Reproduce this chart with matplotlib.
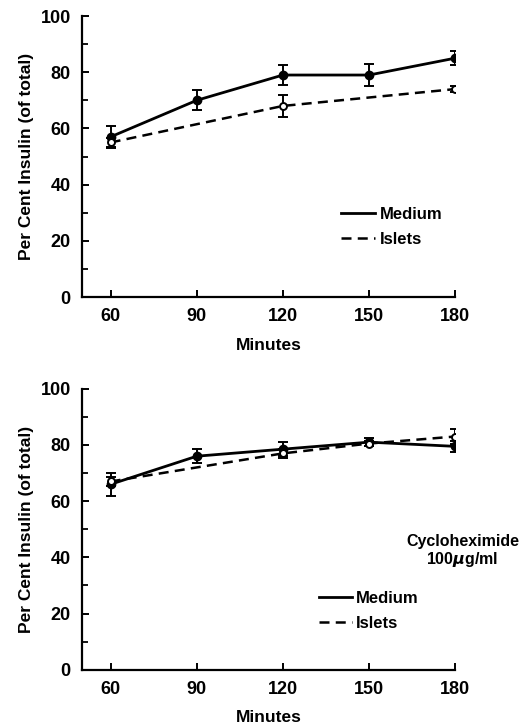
import numpy as np
import matplotlib
matplotlib.use('Agg')
from matplotlib import pyplot as plt
from matplotlib.lines import Line2D

# time points (minutes)
minutes = [60, 90, 120, 150, 180]
islet_minutes = [60, 120, 180]

# top panel: control
top_medium = [57, 70, 79, 79, 85]
top_medium_err = [4, 3.5, 3.5, 4, 2.5]
top_islets = [55, 68, 74]
top_islets_err = [1.5, 4, 1]

# bottom panel: cycloheximide 100 ug/ml
bot_medium = [66, 76, 78.5, 81, 79.5]
bot_medium_err = [4, 2.5, 2.5, 1.5, 2]
bot_islet_minutes = [60, 120, 150, 180]
bot_islets = [67, 77, 80.5, 83]
bot_islets_err = [1.5, 1.5, 1, 2.5]

plt.rcParams['font.family'] = ['Liberation Sans', 'DejaVu Sans']
plt.rcParams['font.weight'] = 'bold'

fig = plt.figure(figsize=(5.25, 7.28), dpi=100)
ax1 = fig.add_axes([0.156, 0.592, 0.711, 0.386])
ax2 = fig.add_axes([0.156, 0.080, 0.711, 0.386])

dash = (0, (4, 2.5))


def draw_panel(ax, med, med_err, isl_x, isl, isl_err):
    ax.errorbar(minutes, med, yerr=med_err, color='black', lw=2.0, marker='o',
                ms=6, capsize=3.5, elinewidth=1.4, capthick=1.4)
    ax.errorbar(isl_x, isl, yerr=isl_err, color='black', lw=1.8, ls=dash,
                marker='o', ms=5, mfc='white', mew=1.4, capsize=3.5,
                elinewidth=1.4, capthick=1.4)
    ax.set_xlim(50, 180)
    ax.set_ylim(0, 100)
    ax.set_xticks(minutes)
    ax.set_yticks(np.arange(0, 101, 20))
    ax.set_yticks(np.arange(10, 100, 20), minor=True)
    ax.spines['top'].set_visible(False)
    ax.spines['right'].set_visible(False)
    ax.spines['left'].set_linewidth(1.6)
    ax.spines['bottom'].set_linewidth(1.6)
    ax.tick_params(direction='in', length=5, width=1.4, labelsize=13, pad=8)
    ax.tick_params(axis='y', which='minor', direction='in', length=4, width=1.3)
    ax.set_ylabel('Per Cent Insulin (of total)', fontsize=12.5, fontweight='bold', labelpad=5)
    ax.set_xlabel('Minutes', fontsize=12.5, fontweight='bold', labelpad=9)


draw_panel(ax1, top_medium, top_medium_err, islet_minutes, top_islets, top_islets_err)
draw_panel(ax2, bot_medium, bot_medium_err, bot_islet_minutes, bot_islets, bot_islets_err)

handles = [Line2D([], [], color='black', lw=2.0),
           Line2D([], [], color='black', lw=1.8, ls=dash)]
labels = ['Medium', 'Islets']

ax1.legend(handles, labels, loc='upper left', bbox_to_anchor=(0.655, 0.375),
           frameon=False, fontsize=12, handlelength=2.0, handletextpad=0.3,
           labelspacing=0.6)
ax2.legend(handles, labels, loc='upper left', bbox_to_anchor=(0.595, 0.335),
           frameon=False, fontsize=12, handlelength=2.0, handletextpad=0.2,
           labelspacing=0.6)
ax2.text(1.02, 0.42, 'Cycloheximide\n100$\\mu$g/ml', transform=ax2.transAxes,
         ha='center', va='center', fontsize=11.5, fontweight='bold', linespacing=1.1)

fig.savefig('out.png', dpi=100)
